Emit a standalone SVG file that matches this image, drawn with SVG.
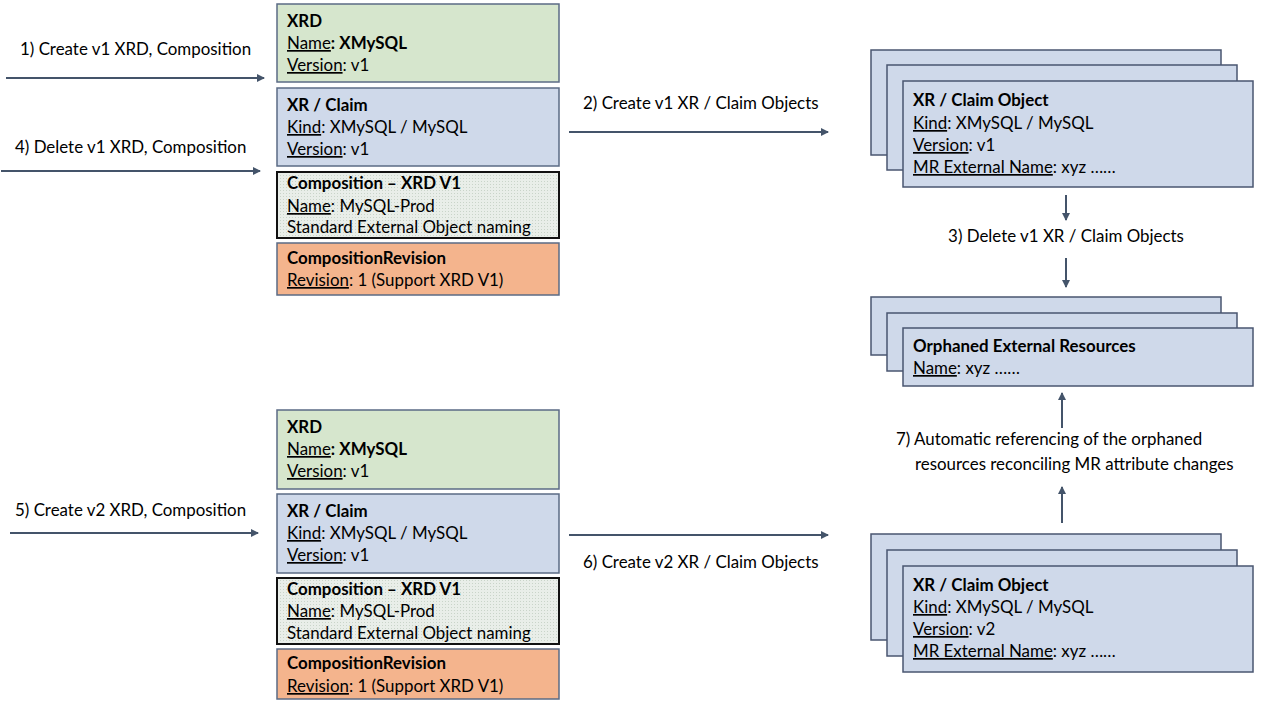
<svg xmlns="http://www.w3.org/2000/svg" width="1264" height="708" viewBox="0 0 1264 708">
<style>
text{font-family:"Lato","Liberation Sans",sans-serif;font-size:16.9px;fill:#000}
.b{font-weight:bold}
.u{text-decoration:underline}
.green{fill:#d6e6cd;stroke:#5b6b85;stroke-width:1.5}
.blue{fill:#cfd9ea;stroke:#5b6b85;stroke-width:1.5}
.comp{fill:url(#dots);stroke:#111;stroke-width:2}
.orange{fill:#f4b48d;stroke:#5b6b85;stroke-width:1.5}
.stack{fill:#cfd9ea;stroke:#4a5670;stroke-width:1.5}
.conn{stroke:#44546a;stroke-width:2;fill:none;marker-end:url(#ah)}
</style>
<defs>
<marker id="ah" markerWidth="8" markerHeight="8" refX="7" refY="4" orient="auto" markerUnits="userSpaceOnUse">
<path d="M0,0 L8,4 L0,8 Z" fill="#44546a"/>
</marker>
<pattern id="dots" width="3" height="3" patternUnits="userSpaceOnUse">
<rect width="3" height="3" fill="#e9eee9"/>
<rect x="1" y="1" width="1" height="1" fill="#c9d4c9"/>
</pattern>
</defs>
<rect width="1264" height="708" fill="#fff"/>

<g id="connectors">
<line class="conn" x1="6" y1="78" x2="264" y2="78"/>
<line class="conn" x1="1" y1="171" x2="260" y2="171"/>
<line class="conn" x1="10" y1="533" x2="258" y2="533"/>
<line class="conn" x1="569" y1="132" x2="828" y2="132"/>
<line class="conn" x1="569" y1="535" x2="828" y2="535"/>
<line class="conn" x1="1066" y1="195" x2="1066" y2="220"/>
<line class="conn" x1="1066" y1="258" x2="1066" y2="287"/>
<line class="conn" x1="1062" y1="428" x2="1062" y2="393"/>
<line class="conn" x1="1062" y1="523" x2="1062" y2="487"/>
<text x="20" y="55">1) Create v1 XRD, Composition</text>
<text x="15" y="153">4) Delete v1 XRD, Composition</text>
<text x="15" y="516">5) Create v2 XRD, Composition</text>
<text x="583" y="109">2) Create v1 XR / Claim Objects</text>
<text x="583" y="568">6) Create v2 XR / Claim Objects</text>
<text x="1066" y="242" text-anchor="middle">3) Delete v1 XR / Claim Objects</text>
<text x="896" y="445">7) Automatic referencing of the orphaned</text>
<text x="915" y="470">resources reconciling MR attribute changes</text>
</g>

<g id="xrd1">
<rect class="green" x="277" y="4" width="282" height="78"/>
<text class="b" x="287" y="27">XRD</text>
<text x="287" y="49"><tspan class="u">Name</tspan><tspan class="b">: XMySQL</tspan></text>
<text x="287" y="71"><tspan class="u">Version</tspan>: v1</text>
</g>
<g id="claim1">
<rect class="blue" x="277" y="88" width="282" height="78"/>
<text class="b" x="287" y="111">XR / Claim</text>
<text x="287" y="133"><tspan class="u">Kind</tspan>: XMySQL / MySQL</text>
<text x="287" y="155"><tspan class="u">Version</tspan>: v1</text>
</g>
<g id="comp1">
<rect class="comp" x="277" y="172" width="282" height="66"/>
<text class="b" x="287" y="189">Composition – XRD V1</text>
<text x="287" y="212"><tspan class="u">Name</tspan>: MySQL-Prod</text>
<text x="287" y="233">Standard External Object naming</text>
</g>
<g id="rev1">
<rect class="orange" x="277" y="243" width="282" height="52"/>
<text class="b" x="287" y="264">CompositionRevision</text>
<text x="287" y="286"><tspan class="u">Revision</tspan>: 1 (Support XRD V1)</text>
</g>

<g id="xrd2">
<rect class="green" x="277" y="410" width="282" height="79"/>
<text class="b" x="287" y="433">XRD</text>
<text x="287" y="455"><tspan class="u">Name</tspan><tspan class="b">: XMySQL</tspan></text>
<text x="287" y="477"><tspan class="u">Version</tspan>: v1</text>
</g>
<g id="claim2">
<rect class="blue" x="277" y="494" width="282" height="79"/>
<text class="b" x="287" y="517">XR / Claim</text>
<text x="287" y="539"><tspan class="u">Kind</tspan>: XMySQL / MySQL</text>
<text x="287" y="561"><tspan class="u">Version</tspan>: v1</text>
</g>
<g id="comp2">
<rect class="comp" x="277" y="578" width="282" height="66"/>
<text class="b" x="287" y="595">Composition – XRD V1</text>
<text x="287" y="617"><tspan class="u">Name</tspan>: MySQL-Prod</text>
<text x="287" y="639">Standard External Object naming</text>
</g>
<g id="rev2">
<rect class="orange" x="277" y="649" width="282" height="50"/>
<text class="b" x="287" y="669">CompositionRevision</text>
<text x="287" y="692"><tspan class="u">Revision</tspan>: 1 (Support XRD V1)</text>
</g>

<g id="claimobj1">
<rect class="stack" x="871" y="50" width="350" height="105"/>
<rect class="stack" x="887" y="65" width="350" height="105"/>
<rect class="stack" x="903" y="81" width="350" height="106"/>
<text class="b" x="913" y="106">XR / Claim Object</text>
<text x="913" y="129"><tspan class="u">Kind</tspan>: XMySQL / MySQL</text>
<text x="913" y="151"><tspan class="u">Version</tspan>: v1</text>
<text x="913" y="173"><tspan class="u">MR External Name</tspan>: xyz ……</text>
</g>
<g id="orphaned">
<rect class="stack" x="871" y="297" width="350" height="58"/>
<rect class="stack" x="887" y="313" width="350" height="58"/>
<rect class="stack" x="903" y="328" width="350" height="58"/>
<text class="b" x="913" y="352">Orphaned External Resources</text>
<text x="913" y="374"><tspan class="u">Name</tspan>: xyz ……</text>
</g>
<g id="claimobj2">
<rect class="stack" x="871" y="534" width="350" height="106"/>
<rect class="stack" x="887" y="550" width="350" height="106"/>
<rect class="stack" x="903" y="566" width="350" height="106"/>
<text class="b" x="913" y="591">XR / Claim Object</text>
<text x="913" y="613"><tspan class="u">Kind</tspan>: XMySQL / MySQL</text>
<text x="913" y="635"><tspan class="u">Version</tspan>: v2</text>
<text x="913" y="657"><tspan class="u">MR External Name</tspan>: xyz ……</text>
</g>
</svg>
